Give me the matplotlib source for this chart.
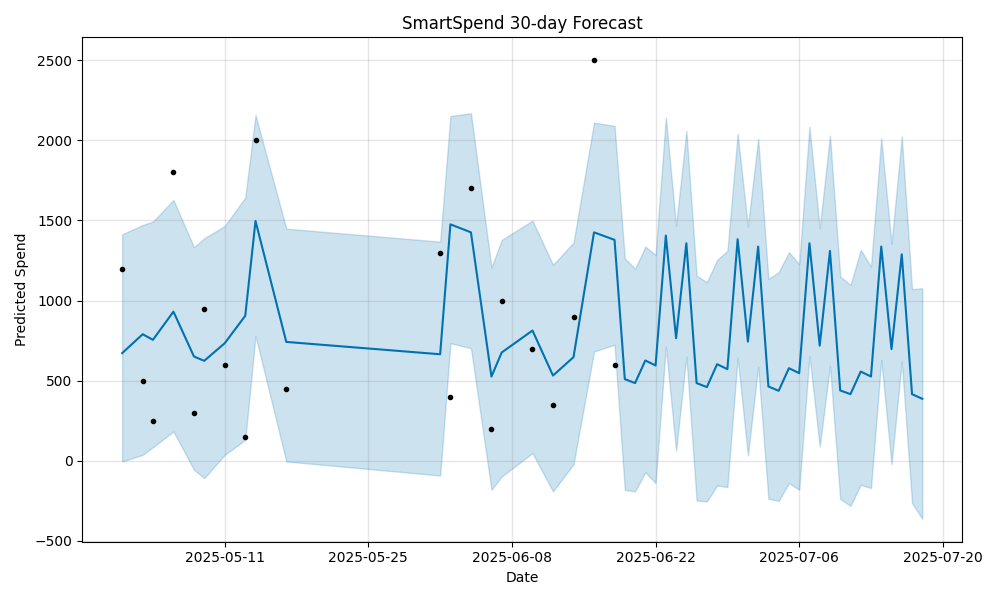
import numpy as np
import pandas as pd
import matplotlib
matplotlib.use("Agg")
import matplotlib.pyplot as plt
from matplotlib.dates import AutoDateLocator, AutoDateFormatter

# observed history
hist_dates = ["2025-05-01", "2025-05-03", "2025-05-04", "2025-05-06", "2025-05-08",
              "2025-05-09", "2025-05-11", "2025-05-13", "2025-05-14", "2025-05-17",
              "2025-06-01", "2025-06-02", "2025-06-04", "2025-06-06", "2025-06-07",
              "2025-06-10", "2025-06-12", "2025-06-14", "2025-06-16", "2025-06-18"]
hist_spend = [1200, 500, 250, 1800, 300, 950, 600, 150, 2000, 450,
              1300, 400, 1700, 200, 1000, 700, 350, 900, 2500, 600]

# forecast: fitted history + 30 future days
future_dates = pd.date_range("2025-06-19", "2025-07-18", freq="D")
fc_dates = list(pd.to_datetime(hist_dates)) + list(future_dates)

yhat = [672, 790, 755, 931, 651, 624, 734, 905, 1497, 742,
        665, 1476, 1426, 526, 676, 813, 532, 647, 1426, 1379,
        510, 485, 626, 595, 1406, 765, 1358, 485, 460, 603, 572, 1383, 744, 1337,
        464, 437, 578, 547, 1358, 719, 1310, 439, 416, 557, 526, 1337, 697, 1289,
        416, 387]
yhat_upper = [1414, 1472, 1493, 1628, 1333, 1389, 1466, 1643, 2158, 1449,
              1368, 2152, 2169, 1206, 1379, 1499, 1223, 1362, 2111, 2090,
              1264, 1198, 1337, 1285, 2144, 1466, 2059, 1156, 1115, 1254, 1310, 2040, 1462, 2009,
              1135, 1177, 1302, 1227, 2086, 1452, 2030, 1150, 1098, 1316, 1212, 2013, 1354, 2023,
              1071, 1077]
yhat_lower = [-4, 37, 85, 183, -56, -108, 37, 131, 780, -4,
              -92, 734, 703, -181, -98, 48, -191, -21, 682, 724,
              -181, -191, -71, -139, 713, 62, 651, -248, -254, -154, -164, 644, 33, 588,
              -237, -250, -139, -181, 655, 89, 593, -239, -281, -150, -170, 630, -21, 620,
              -264, -362]

fig = plt.figure(facecolor="w", figsize=(10, 6))
ax = fig.add_subplot(111)
ax.plot(pd.to_datetime(hist_dates), hist_spend, "k.")
ax.plot(fc_dates, yhat, ls="-", c="#0072B2")
ax.fill_between(fc_dates, yhat_lower, yhat_upper, color="#0072B2", alpha=0.2)

locator = AutoDateLocator(interval_multiples=False)
formatter = AutoDateFormatter(locator)
ax.xaxis.set_major_locator(locator)
ax.xaxis.set_major_formatter(formatter)
ax.grid(True, which="major", c="gray", ls="-", lw=1, alpha=0.2)
ax.set_xlabel("Date")
ax.set_ylabel("Predicted Spend")
ax.set_title("SmartSpend 30-day Forecast")
fig.tight_layout()
fig.savefig("out.png", dpi=100)
